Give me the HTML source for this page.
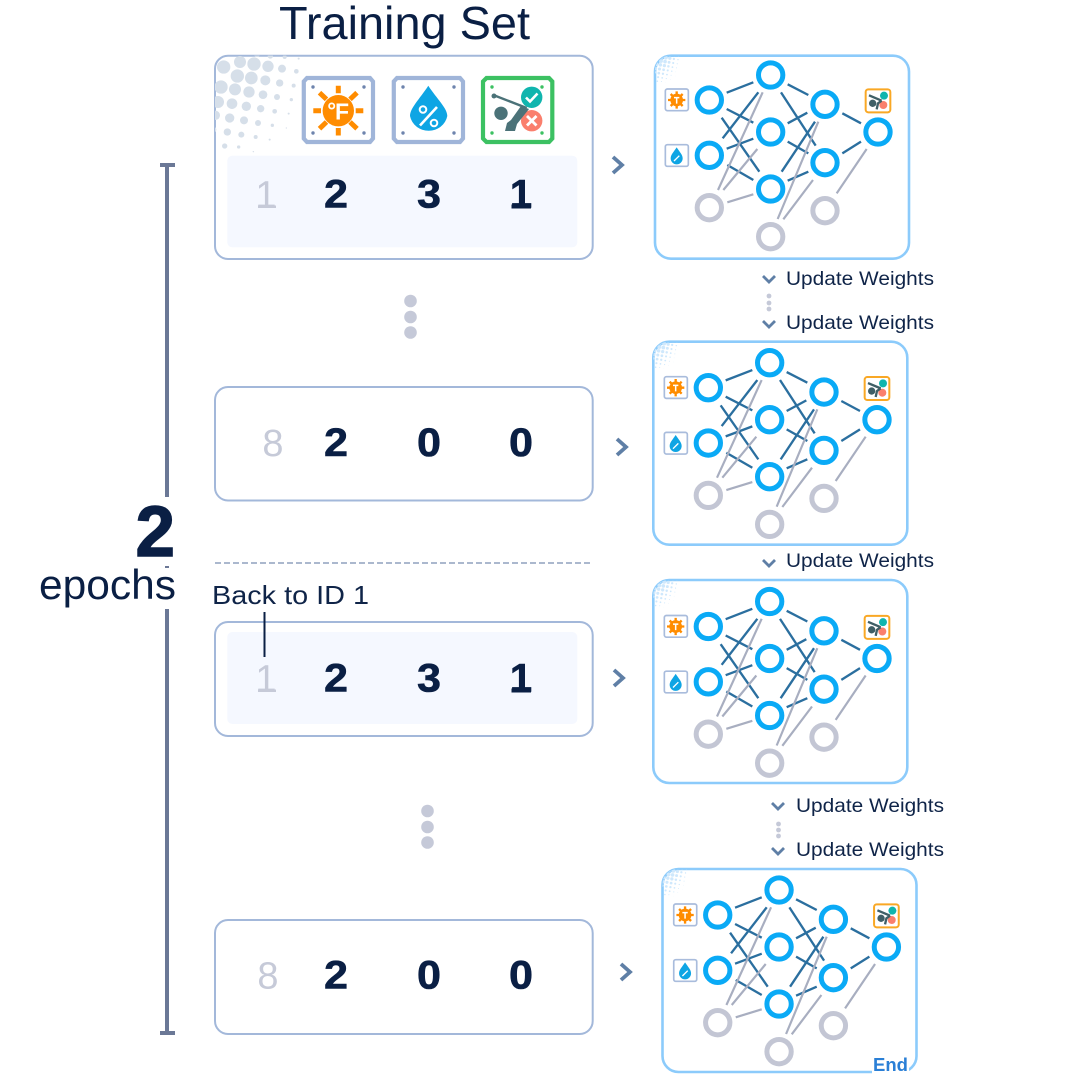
<!DOCTYPE html>
<html>
<head>
<meta charset="utf-8">
<style>
html,body{margin:0;padding:0;background:#fff;width:1080px;height:1080px;overflow:hidden}
svg{display:block}
text{font-family:"Liberation Sans",sans-serif}
.n{font-size:40px;font-weight:700;fill:#0a1f44;stroke:#0a1f44;stroke-width:.6;text-anchor:middle}
.id{font-size:38px;fill:#c6cad8;text-anchor:middle}
.u{font-size:19.5px;fill:#0f2448}
.box{fill:#fff;stroke:#a3b8da;stroke-width:2}
.inner{fill:#f5f8ff}
.nb{fill:#fff;stroke:#8ccbfb;stroke-width:2.6}
.ch{fill:none;stroke:#5f7fa6;stroke-width:3.8}
.chs{fill:none;stroke:#5f7fa6;stroke-width:2.8}
</style>
</head>
<body>
<svg width="1080" height="1080" viewBox="0 0 1080 1080" xmlns="http://www.w3.org/2000/svg">
<defs>
<clipPath id="htc"><rect x="30" y="32" width="400" height="400" rx="39"/></clipPath>
<clipPath id="htm"><rect x="35" y="40" width="400" height="400" rx="150"/></clipPath>
<g id="ht">
<circle cx="147" cy="57" r="20"/><circle cx="189" cy="64" r="17"/><circle cx="231" cy="71" r="12"/><circle cx="274" cy="79" r="7"/>
<circle cx="97" cy="93" r="20"/><circle cx="139" cy="99" r="19"/><circle cx="181" cy="106" r="15"/><circle cx="224" cy="114" r="11"/><circle cx="266" cy="122" r="6"/>
<circle cx="48" cy="126" r="20"/><circle cx="90" cy="133" r="18"/><circle cx="132" cy="141" r="17"/><circle cx="174" cy="149" r="13"/><circle cx="216" cy="156" r="9"/><circle cx="259" cy="164" r="5"/>
<circle cx="39" cy="171" r="18"/><circle cx="81" cy="176" r="16"/><circle cx="124" cy="184" r="14"/><circle cx="167" cy="191" r="11"/><circle cx="209" cy="199" r="7"/><circle cx="251" cy="206" r="3"/>
<circle cx="31" cy="211" r="14"/><circle cx="74" cy="219" r="14"/><circle cx="117" cy="226" r="12"/><circle cx="159" cy="234" r="9"/><circle cx="202" cy="241" r="5"/><circle cx="244" cy="249" r="2"/>
<circle cx="25" cy="254" r="9"/><circle cx="67" cy="261" r="11"/><circle cx="109" cy="269" r="9"/><circle cx="152" cy="276" r="6"/><circle cx="194" cy="284" r="3"/>
<circle cx="59" cy="303" r="8"/><circle cx="101" cy="306" r="5"/><circle cx="145" cy="320" r="2"/>
<circle cx="105" cy="51" r="18"/><circle cx="56" cy="66" r="20"/><circle cx="156" cy="26" r="10"/><circle cx="196" cy="33" r="8"/><circle cx="239" cy="36" r="6"/><circle cx="281" cy="41" r="3"/>
</g>
<g id="net" transform="translate(650,50) scale(.33333)">
<g stroke="#2b6f9f" stroke-width="7" fill="none">
<path d="M230 128L310 97M230 177L310 218M215 203L328 365M218 265L325 127M230 296L310 266M232 345L310 390M413 103L475 135M393 127L497 287M413 220L472 188M413 275L475 310M395 365L495 215M413 392L475 365M577 190L633 220M577 310L633 275"/>
</g>
<g stroke="#a8aec0" stroke-width="6.5" fill="none">
<path d="M204 420L338 127M220 420L322 297M232 457L310 433M383 507L505 215M400 508L489 390M560 430L650 297"/>
</g>
<g fill="#fff" stroke="#0aaaf6" stroke-width="15">
<circle cx="178" cy="150" r="36.500"/><circle cx="178" cy="316" r="36.500"/><circle cx="362" cy="75" r="36.500"/><circle cx="362" cy="246" r="36.500"/><circle cx="362" cy="417" r="36.500"/><circle cx="525" cy="163" r="36.500"/><circle cx="525" cy="338" r="36.500"/><circle cx="684" cy="246" r="36.500"/>
</g>
<g fill="#fff" stroke="#c3c6d4" stroke-width="15">
<circle cx="178" cy="473" r="36.500"/><circle cx="362" cy="560" r="36.500"/><circle cx="525" cy="482" r="36.500"/>
</g>
<rect x="46" y="117" width="69" height="65" rx="6" fill="#fff" stroke="#a9bcdc" stroke-width="5"/>
<g stroke="#ff8c00" stroke-width="7"><path d="M80 124V176M54 150H106M62 132L98 168M98 132L62 168"/></g>
<circle cx="80" cy="150" r="19" fill="#ff8c00"/><path d="M72 143H88M80 143V161" stroke="#fff" stroke-width="4.500"/>
<rect x="46" y="284" width="69" height="65" rx="6" fill="#fff" stroke="#a9bcdc" stroke-width="5"/>
<path d="M80 292C89 306 98 314 98 325A18 18 0 0 1 62 325C62 314 71 306 80 292Z" fill="#0ea5e4"/><path d="M72 333L88 317" stroke="#fff" stroke-width="4"/>
<rect x="647" y="118" width="74" height="69" rx="8" fill="#fff" stroke="#f9a825" stroke-width="6"/>
<circle cx="702" cy="137" r="12" fill="#10b5ae"/><circle cx="700" cy="165" r="12" fill="#fa7f6d"/>
<circle cx="668" cy="160" r="11" fill="#3f5f66"/><path d="M657 136L695 152M680 178L684 160L695 152" stroke="#3f5f66" stroke-width="7" fill="none"/>
</g>
</defs>

<!-- title -->
<text x="279" y="39" font-size="46" fill="#0a1f44" textLength="251" lengthAdjust="spacingAndGlyphs">Training Set</text>

<!-- bracket -->
<path d="M167 165V497M167 609V1033M160 165H175M160 1033H175" stroke="#6b7896" stroke-width="4" fill="none"/>
<rect x="165" y="566" width="4" height="2" fill="#6b7896"/>
<text x="175" y="556" font-size="71" font-weight="700" fill="#0a1f44" stroke="#0a1f44" stroke-width="1.400" text-anchor="end">2</text>
<text x="39" y="599" font-size="42" fill="#0a1f44" textLength="137" lengthAdjust="spacingAndGlyphs">epochs</text>

<!-- row 1 -->
<rect class="box" x="215" y="55.700" width="377.700" height="203.300" rx="13"/>
<g clip-path="url(#htc)" transform="translate(205,45) scale(.33333)" fill="#d6dfe9"><use href="#ht"/></g>
<rect class="inner" x="227.300" y="155.700" width="350" height="91.600" rx="5"/>
<text class="id" x="266" y="207.500">1</text><text class="n" x="336" y="207.500" textLength="24" lengthAdjust="spacingAndGlyphs">2</text><text class="n" x="429" y="207.500" textLength="24" lengthAdjust="spacingAndGlyphs">3</text><text class="n" x="521" y="207.500">1</text>
<rect x="258" y="205.500" width="18" height="2.500" fill="#c6cad8"/><rect x="511.500" y="204.500" width="19.500" height="4" fill="#0a1f44"/>

<!-- icon cards -->
<g fill="#fff" stroke-width="4.200">
<path d="M307 78H370L373 81.500V138.500L370 142H307L303.800 138.500V81.500Z" stroke="#a0b5d9"/>
<path d="M397 78H460L463 81.500V138.500L460 142H397L393.800 138.500V81.500Z" stroke="#a0b5d9"/>
<path d="M486.500 78H549L552.300 81.500V138.500L549 142H486.500L483 138.500V81.500Z" stroke="#3cc162"/>
</g>
<g fill="#6e84ad"><circle cx="313" cy="87" r="1.700"/><circle cx="364" cy="87" r="1.700"/><circle cx="313" cy="133" r="1.700"/><circle cx="364" cy="133" r="1.700"/><circle cx="403" cy="87" r="1.700"/><circle cx="454" cy="87" r="1.700"/><circle cx="403" cy="133" r="1.700"/><circle cx="454" cy="133" r="1.700"/></g>
<g fill="#3cc162"><circle cx="492" cy="87" r="1.700"/><circle cx="542" cy="87" r="1.700"/><circle cx="492" cy="133" r="1.700"/><circle cx="542" cy="133" r="1.700"/></g>
<circle cx="338.300" cy="110.700" r="15.700" fill="#ff8c00"/>
<g stroke="#ff8c00" stroke-width="5"><path d="M338.300 85.700V93.300M338.300 128V135.500M313.300 110.700H321M355.700 110.700H363.300M319.500 92.700L326.500 99.300M350 122L357 128.700M357 92.700L350 99.300M326.500 122L319.500 128.700"/></g>
<circle cx="331.700" cy="106" r="2.600" fill="none" stroke="#fff" stroke-width="1.800"/>
<text x="342" y="119.500" font-size="23" font-weight="700" fill="#fff" text-anchor="middle">F</text>
<path d="M428.300 85.700C437 99 447.300 108 447.300 116A19 18.300 0 0 1 410 116C410 108 419.600 99 428.300 85.700Z" fill="#0ea5e4"/>
<path d="M420 125.500L437 107" stroke="#fff" stroke-width="2.600"/>
<circle cx="423" cy="109.500" r="3.300" fill="none" stroke="#fff" stroke-width="2"/><circle cx="434" cy="123" r="3.300" fill="none" stroke="#fff" stroke-width="2"/>
<circle cx="531.700" cy="97.300" r="10.700" fill="#10b5ae"/><path d="M526 97.500L530 101.500L537.500 93.500" fill="none" stroke="#fff" stroke-width="2.600"/>
<circle cx="531.700" cy="120.700" r="10.700" fill="#fa7f6d"/><path d="M527 116L536.500 125.500M536.500 116L527 125.500" stroke="#fff" stroke-width="2.800"/>
<circle cx="501" cy="113.300" r="6.700" fill="#4b7278"/>
<path d="M493.300 95L526.700 108" stroke="#4b7278" stroke-width="2.400"/><circle cx="494" cy="96" r="2.500" fill="#4b7278"/>
<path d="M505 131L507 123L511 120L521 106L529 109L517 124L515 131Z" fill="#4b7278"/>

<!-- row 2 -->
<circle cx="410.500" cy="301" r="6.300" fill="#c5c9d8"/><circle cx="410.500" cy="317" r="6.300" fill="#c5c9d8"/><circle cx="410.500" cy="332.500" r="6.300" fill="#c5c9d8"/>
<rect class="box" x="215" y="387" width="377.700" height="113.500" rx="13"/>
<text class="id" x="273" y="456">8</text><text class="n" x="336" y="456" textLength="24" lengthAdjust="spacingAndGlyphs">2</text><text class="n" x="429" y="456" textLength="24" lengthAdjust="spacingAndGlyphs">0</text><text class="n" x="521" y="456" textLength="24" lengthAdjust="spacingAndGlyphs">0</text>

<!-- divider -->
<path d="M215 563H590" stroke="#8fa0bd" stroke-width="1.500" stroke-dasharray="6 3" fill="none"/>

<!-- row 3 -->
<rect class="box" x="215" y="622" width="377.700" height="114" rx="13"/>
<rect class="inner" x="227.300" y="632" width="350" height="92" rx="5"/>
<text x="212" y="604" font-size="26" fill="#0f2448" textLength="157" lengthAdjust="spacingAndGlyphs">Back to ID 1</text>
<text class="id" x="266" y="691.500">1</text><text class="n" x="336" y="691.500" textLength="24" lengthAdjust="spacingAndGlyphs">2</text><text class="n" x="429" y="691.500" textLength="24" lengthAdjust="spacingAndGlyphs">3</text><text class="n" x="521" y="691.500">1</text>
<rect x="258" y="689.500" width="18" height="2.500" fill="#c6cad8"/><rect x="511.500" y="688.500" width="19.500" height="4" fill="#0a1f44"/>
<path d="M264.500 612V657" stroke="#0a1f44" stroke-width="2" fill="none"/>

<!-- row 4 -->
<circle cx="427.500" cy="811" r="6.300" fill="#c5c9d8"/><circle cx="427.500" cy="827" r="6.300" fill="#c5c9d8"/><circle cx="427.500" cy="842.500" r="6.300" fill="#c5c9d8"/>
<rect class="box" x="215" y="920" width="377.700" height="114" rx="13"/>
<text class="id" x="268" y="988.500">8</text><text class="n" x="336" y="988.500" textLength="24" lengthAdjust="spacingAndGlyphs">2</text><text class="n" x="429" y="988.500" textLength="24" lengthAdjust="spacingAndGlyphs">0</text><text class="n" x="521" y="988.500" textLength="24" lengthAdjust="spacingAndGlyphs">0</text>

<!-- right chevrons -->
<path class="ch" d="M613 157L622 165L613 173"/>
<path class="ch" d="M617 439L626 447L617 455"/>
<path class="ch" d="M614 670L623 678L614 686"/>
<path class="ch" d="M621 964L630 972L621 980"/>

<!-- networks -->
<rect class="nb" x="655" y="55.700" width="254" height="203" rx="16"/>
<g clip-path="url(#htm)" transform="translate(651.700,52.100) scale(.096)" fill="#cfe8fc"><use href="#ht"/></g>
<use href="#net"/>

<rect class="nb" x="653.300" y="341.700" width="254" height="203" rx="16"/>
<g clip-path="url(#htm)" transform="translate(650,338.100) scale(.096)" fill="#cfe8fc"><use href="#ht"/></g>
<use href="#net" transform="translate(-1,287.700)"/>

<rect class="nb" x="653.300" y="580" width="254" height="203" rx="16"/>
<g clip-path="url(#htm)" transform="translate(650,576.400) scale(.096)" fill="#cfe8fc"><use href="#ht"/></g>
<use href="#net" transform="translate(-1,526.500)"/>

<rect class="nb" x="662.500" y="869" width="254" height="203" rx="16"/>
<g clip-path="url(#htm)" transform="translate(659.200,865.400) scale(.096)" fill="#cfe8fc"><use href="#ht"/></g>
<use href="#net" transform="translate(8.400,815)"/>
<rect x="872" y="1064" width="37" height="11" fill="#fff"/>
<text x="873" y="1071" font-size="18.500" font-weight="700" fill="#2a7fd6">End</text>

<!-- update weights -->
<path class="chs" d="M763 276L769 282L775 276"/>
<text class="u" x="786" y="285" textLength="148" lengthAdjust="spacingAndGlyphs">Update Weights</text>
<circle cx="769" cy="296" r="2.400" fill="#c5c9d8"/><circle cx="769" cy="303" r="2.400" fill="#c5c9d8"/><circle cx="769" cy="309" r="2.400" fill="#c5c9d8"/>
<path class="chs" d="M763 321L769 327L775 321"/>
<text class="u" x="786" y="329" textLength="148" lengthAdjust="spacingAndGlyphs">Update Weights</text>
<path class="chs" d="M763 560L769 566L775 560"/>
<text class="u" x="786" y="567" textLength="148" lengthAdjust="spacingAndGlyphs">Update Weights</text>
<path class="chs" d="M772 803L778 809L784 803"/>
<text class="u" x="796" y="812" textLength="148" lengthAdjust="spacingAndGlyphs">Update Weights</text>
<circle cx="778.500" cy="824" r="2.400" fill="#c5c9d8"/><circle cx="778.500" cy="830" r="2.400" fill="#c5c9d8"/><circle cx="778.500" cy="836" r="2.400" fill="#c5c9d8"/>
<path class="chs" d="M772 848L778 854L784 848"/>
<text class="u" x="796" y="856" textLength="148" lengthAdjust="spacingAndGlyphs">Update Weights</text>
</svg>
</body>
</html>
